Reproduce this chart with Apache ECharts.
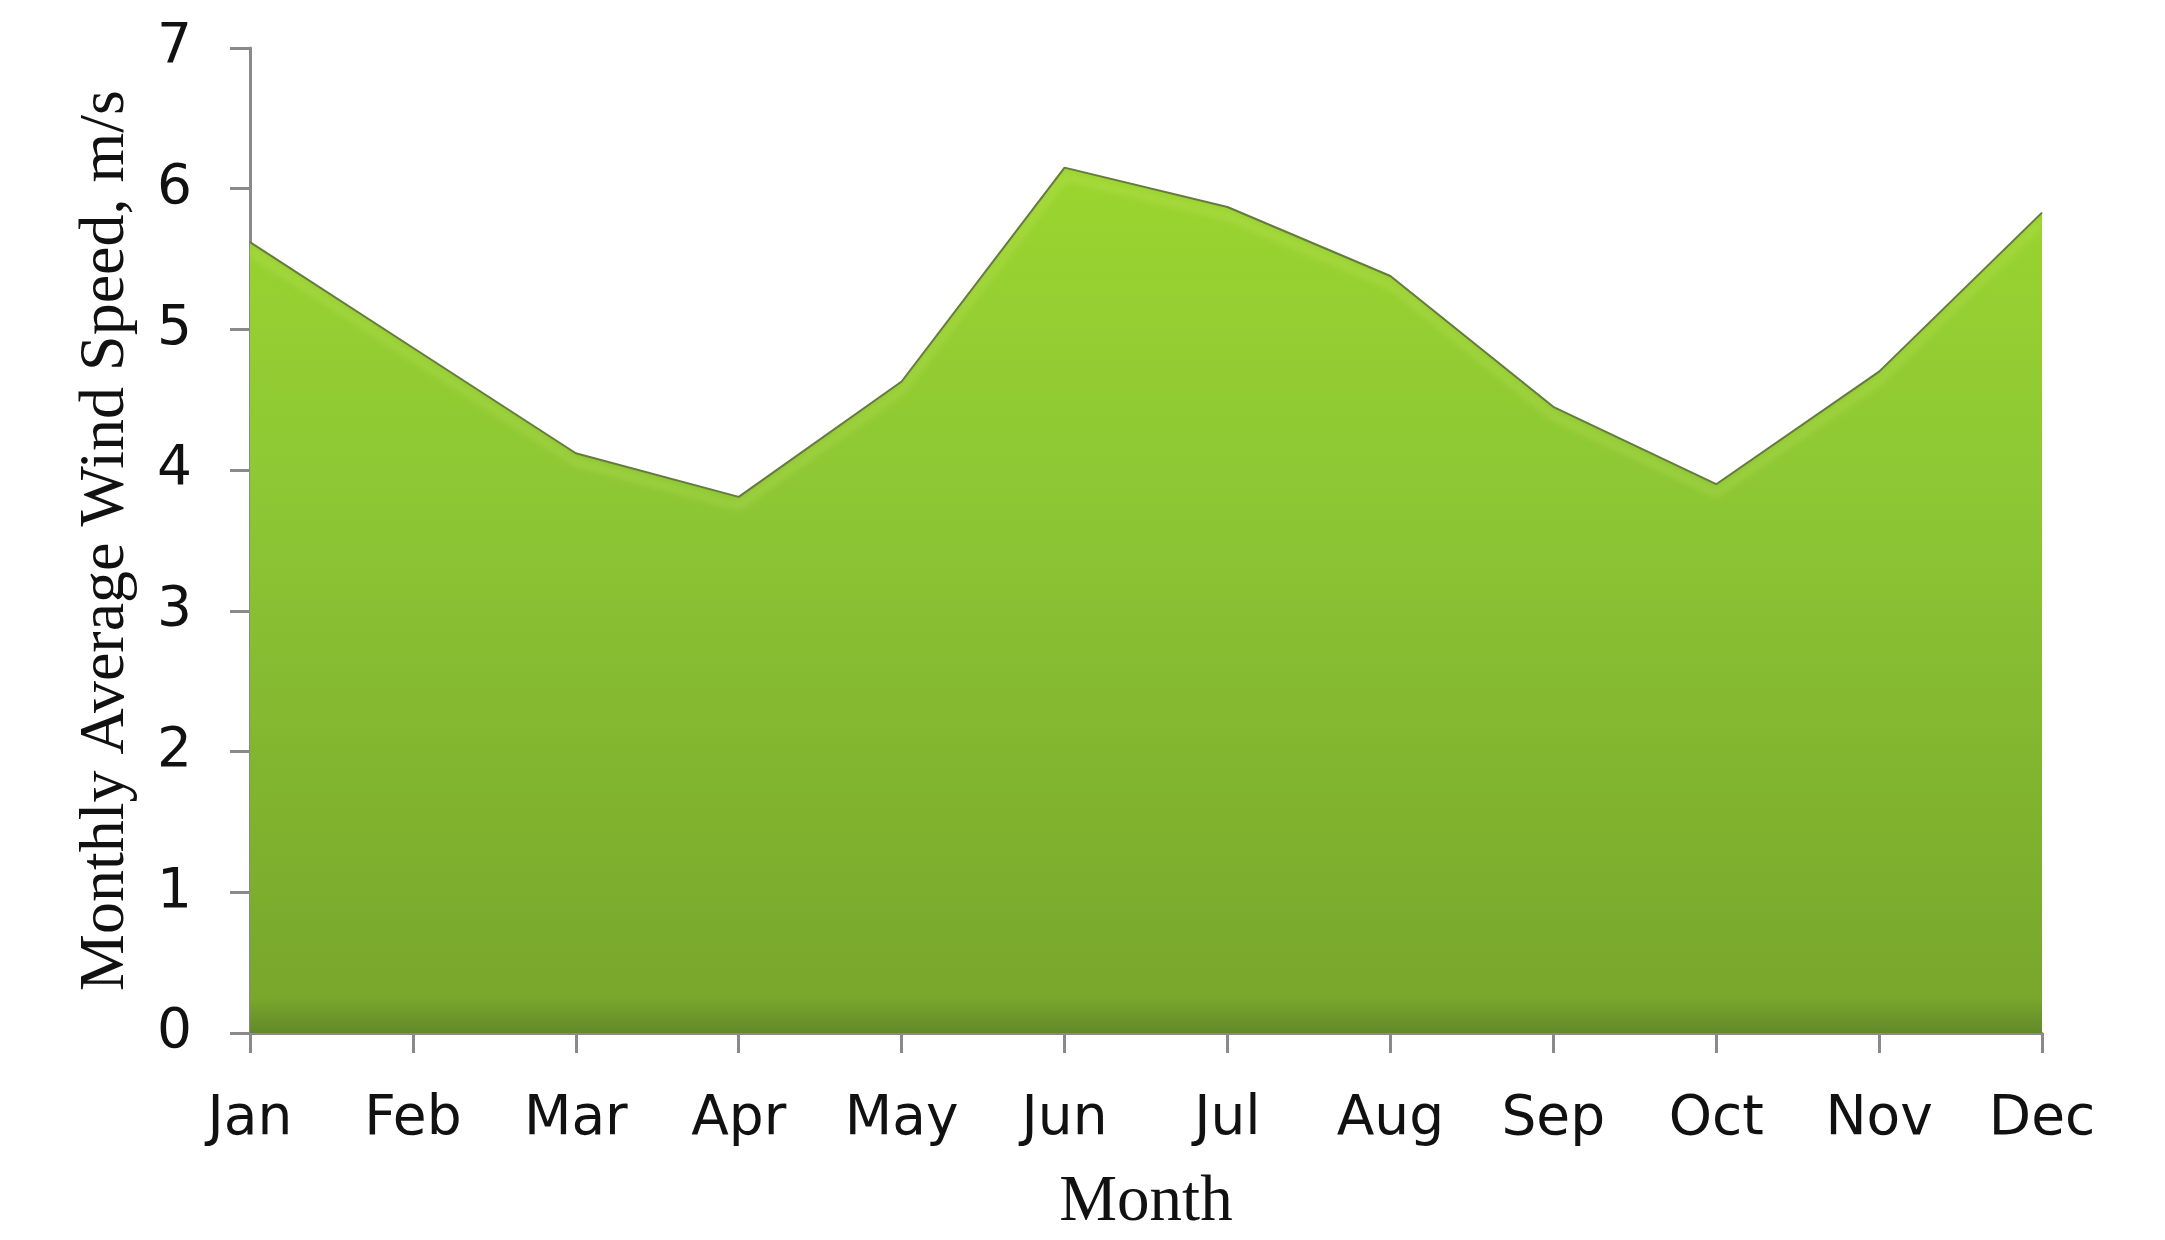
<!DOCTYPE html>
<html>
<head>
<meta charset="utf-8">
<script src="https://cdn.jsdelivr.net/npm/echarts@6/dist/echarts.min.js"></script>
<style>
html,body{margin:0;padding:0;background:#fff;}
#chart{width:2165px;height:1240px;}
</style>
</head>
<body>
<div id="chart"></div>
<script>
const months = ['Jan','Feb','Mar','Apr','May','Jun','Jul','Aug','Sep','Oct','Nov','Dec'];
const windSpeed = [5.62, 4.87, 4.12, 3.81, 4.63, 6.15, 5.87, 5.38, 4.45, 3.90, 4.70, 5.83];
const yTicks = [0, 1, 2, 3, 4, 5, 6, 7];

const chart = echarts.init(document.getElementById('chart'));
chart.setOption({
  animation: false,
  backgroundColor: '#ffffff',
  grid: { left: 250, right: 123, top: 48, bottom: 202 },
  xAxis: {
    type: 'category',
    data: months,
    boundaryGap: false,
    name: 'Month',
    nameLocation: 'middle',
    nameGap: 137,
    nameTextStyle: { fontFamily: 'Liberation Serif', fontSize: 65, color: '#111' },
    axisLine: { lineStyle: { color: '#8a8a8a', width: 3 } },
    axisTick: { show: true, alignWithLabel: true, length: 20, inside: false, lineStyle: { color: '#8a8a8a', width: 3 } },
    axisLabel: { fontFamily: 'DejaVu Sans', fontSize: 55, color: '#111', margin: 59 },
    splitLine: { show: false }
  },
  yAxis: {
    type: 'value',
    min: yTicks[0],
    max: yTicks[yTicks.length - 1],
    interval: 1,
    name: 'Monthly Average Wind Speed, m/s',
    nameLocation: 'middle',
    nameGap: 112,
    nameTextStyle: { fontFamily: 'Liberation Serif', fontSize: 64, color: '#111' },
    axisLine: { show: true, lineStyle: { color: '#8a8a8a', width: 3 } },
    axisTick: { show: true, length: 20, lineStyle: { color: '#8a8a8a', width: 3 } },
    axisLabel: { fontFamily: 'DejaVu Sans', fontSize: 55, color: '#111', margin: 58 },
    splitLine: { show: false }
  },
  series: [{
    type: 'line',
    data: windSpeed,
    symbol: 'none',
    lineStyle: {
      color: '#66793f',
      width: 2,
      shadowColor: 'rgba(212,240,110,0.95)',
      shadowBlur: 8,
      shadowOffsetY: 9
    },
    areaStyle: {
      opacity: 1,
      color: new echarts.graphic.LinearGradient(0, 0, 0, 1, [
        { offset: 0, color: '#9bd52f' },
        { offset: 0.4, color: '#8cc634' },
        { offset: 0.75, color: '#80b22e' },
        { offset: 0.96, color: '#78a72c' },
        { offset: 1, color: '#62892a' }
      ])
    }
  }]
});
</script>
</body>
</html>
